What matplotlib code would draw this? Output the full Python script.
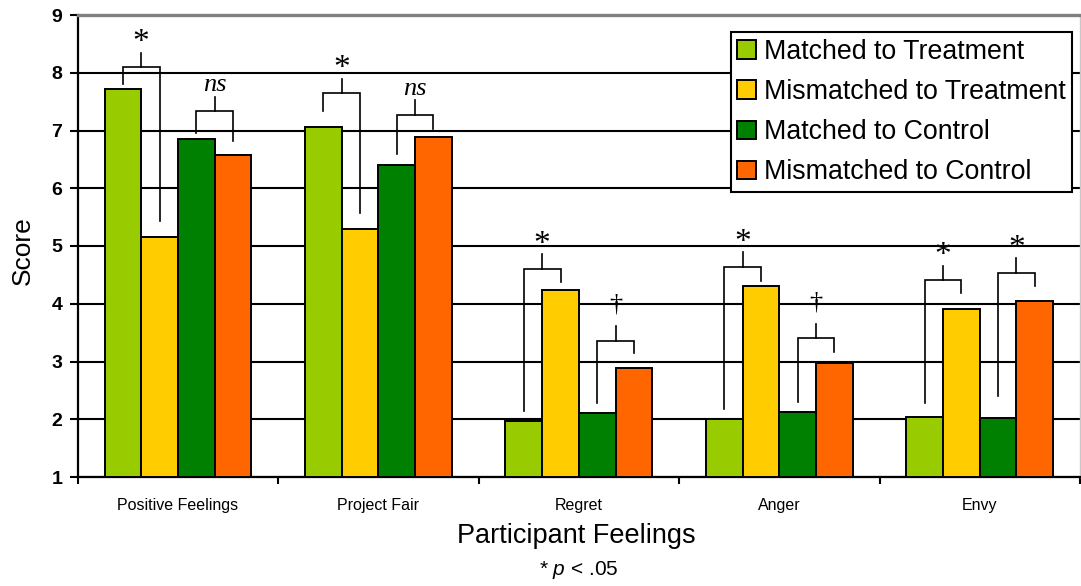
import matplotlib
matplotlib.use("Agg")
import matplotlib.pyplot as plt
from matplotlib.patches import Patch
from matplotlib.ticker import FixedLocator
import numpy as np

plt.rcParams['font.family'] = ['Liberation Sans', 'DejaVu Sans']
plt.rcParams['mathtext.fontset'] = 'custom'
plt.rcParams['mathtext.rm'] = 'Liberation Sans'
plt.rcParams['mathtext.it'] = 'Liberation Sans:italic'

# ---- data ----
categories = ["Positive Feelings", "Project Fair", "Regret", "Anger", "Envy"]
series_names = ["Matched to Treatment", "Mismatched to Treatment",
                "Matched to Control", "Mismatched to Control"]
matched_treatment = [7.71, 7.06, 1.97, 2.01, 2.04]
mismatched_treatment = [5.16, 5.30, 4.23, 4.31, 3.91]
matched_control = [6.85, 6.40, 2.10, 2.12, 2.02]
mismatched_control = [6.57, 6.89, 2.88, 2.98, 4.05]
series_values = [matched_treatment, mismatched_treatment,
                 matched_control, mismatched_control]
colors = ["#99CC00", "#FFCC00", "#008000", "#FF6600"]

# significance brackets: (category, left bar, right bar, label,
#                         bracket height, left leg end, right leg end)
brackets = [
    (0, 0, 1, "*", 8.10, 7.80, 5.43),
    (0, 2, 3, "ns", 7.33, 6.96, 6.81),
    (1, 0, 1, "*", 7.65, 7.34, 5.57),
    (1, 2, 3, "ns", 7.27, 6.59, 7.02),
    (2, 0, 1, "*", 4.61, 2.15, 4.38),
    (2, 2, 3, "\u2020", 3.36, 2.28, 3.14),
    (3, 0, 1, "*", 4.64, 2.18, 4.40),
    (3, 2, 3, "\u2020", 3.40, 2.30, 3.16),
    (4, 0, 1, "*", 4.41, 2.29, 4.19),
    (4, 2, 3, "*", 4.54, 2.40, 4.30),
]

W, H = 1081, 586
fig = plt.figure(figsize=(W / 100, H / 100), dpi=100)
ax_l, ax_r, ax_t, ax_b = 77.7, 1080, 15, 477
ax = fig.add_axes([ax_l / W, 1 - ax_b / H, (ax_r - ax_l) / W, (ax_b - ax_t) / H])

x = np.arange(len(categories))
bw = 0.183
offsets = (np.arange(4) - 1.5) * bw

for k in range(4):
    ax.bar(x + offsets[k], np.array(series_values[k]) - 1, bottom=1, width=bw,
           color=colors[k], edgecolor="black", linewidth=1.4, zorder=3)

ax.set_xlim(-0.5, len(categories) - 0.5)
ax.set_ylim(1, 9)
ax.set_yticks(range(1, 10))
ax.set_axisbelow(True)
ax.yaxis.grid(True, color="black", linewidth=1.5)

ax.set_xticks(x)
ax.set_xticklabels(categories, fontsize=11.5)
ax.xaxis.set_minor_locator(FixedLocator(np.arange(-0.5, len(categories), 1.0)))
ax.tick_params(axis="x", which="major", length=0, pad=15)
ax.tick_params(axis="x", which="minor", length=5, width=1.5, direction="out")
ax.tick_params(axis="y", length=6, width=1.5, direction="out", pad=5, labelsize=14)
for lbl in ax.get_yticklabels():
    lbl.set_fontweight("bold")

for side in ("left", "bottom"):
    ax.spines[side].set_color("black")
    ax.spines[side].set_linewidth(1.6)
ax.spines["top"].set_color("#808080")
ax.spines["top"].set_linewidth(2.4)
ax.spines["right"].set_color("#c8c8c8")
ax.spines["right"].set_linewidth(1.0)

ax.set_ylabel("Score", fontsize=19)
ax.yaxis.label.set_va("center")
ax.yaxis.set_label_coords((23 - ax_l) / (ax_r - ax_l), 0.49)

ax.set_xlabel("Participant Feelings", fontsize=19.5)
ax.xaxis.label.set_va("baseline")
ax.xaxis.set_label_coords((576 - ax_l) / (ax_r - ax_l), (ax_b - 543) / (ax_b - ax_t))

fig.text(579 / W, 1 - 575 / H, "* $p$ < .05", fontsize=15, ha="center", va="baseline")

# significance brackets
tick_len = 0.25
label_gap = {"*": 0.17, "ns": 0.20, "\u2020": 0.38}
label_size = {"*": 24, "ns": 19, "\u2020": 19}
for cat, i, j, label, yb, yl, yr in brackets:
    xl = x[cat] + offsets[i]
    xr = x[cat] + offsets[j]
    xm = (xl + xr) / 2
    ax.plot([xl, xl, xr, xr], [yl, yb, yb, yr], color="black", lw=1.2,
            zorder=4, solid_joinstyle="miter", clip_on=False)
    ax.plot([xm, xm], [yb, yb + tick_len], color="black", lw=1.2, zorder=4)
    style = "italic" if label == "ns" else "normal"
    ax.text(xm, yb + tick_len + label_gap[label], label, ha="center", va="center",
            family="Liberation Serif", fontsize=label_size[label], style=style, zorder=5)

handles = [Patch(facecolor=c, edgecolor="black", linewidth=1.4) for c in colors]
leg = ax.legend(handles, series_names, loc="upper right",
                bbox_to_anchor=(1072 / W, 1 - 32 / H), bbox_transform=fig.transFigure,
                borderaxespad=0, fontsize=19.3, frameon=True, fancybox=False,
                edgecolor="black", framealpha=1, handlelength=0.68, handleheight=0.68,
                handletextpad=0.3, labelspacing=0.53, borderpad=0.25)
leg.get_frame().set_linewidth(1.5)
leg.set_zorder(6)

fig.savefig("out.png", dpi=100)
